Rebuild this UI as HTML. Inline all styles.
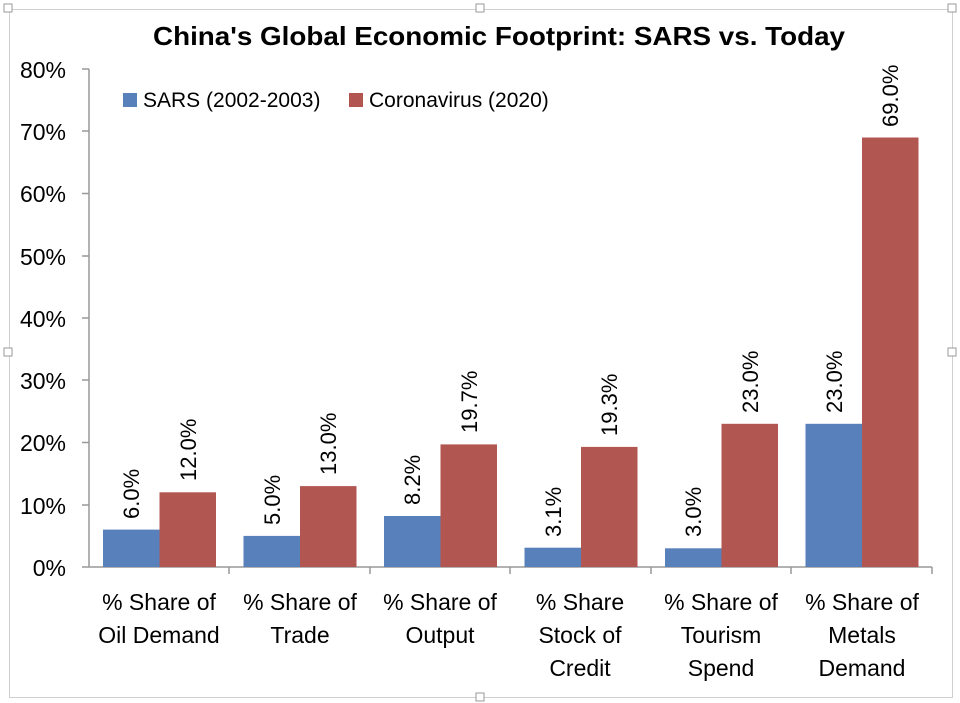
<!DOCTYPE html>
<html><head><meta charset="utf-8"><style>
html,body{margin:0;padding:0;background:#fff;}
svg{display:block;font-family:"Liberation Sans",sans-serif;}
</style></head><body>
<svg width="960" height="703" viewBox="0 0 960 703" xmlns="http://www.w3.org/2000/svg">
<rect x="0" y="0" width="960" height="703" fill="#fff"/>
<rect x="9.5" y="9.5" width="943" height="688" fill="none" stroke="#d0d0d0" stroke-width="1"/>
<rect x="4" y="4" width="8" height="8" fill="#fff" stroke="#999"/>
<rect x="476" y="4" width="8" height="8" fill="#fff" stroke="#999"/>
<rect x="948" y="4" width="8" height="8" fill="#fff" stroke="#999"/>
<rect x="4" y="348" width="8" height="8" fill="#fff" stroke="#999"/>
<rect x="948" y="348" width="8" height="8" fill="#fff" stroke="#999"/>
<rect x="476" y="693" width="8" height="8" fill="#fff" stroke="#999"/>
<text x="499" y="45" text-anchor="middle" font-size="26" font-weight="bold" textLength="692" lengthAdjust="spacingAndGlyphs">China's Global Economic Footprint: SARS vs. Today</text>
<g stroke="#999" stroke-width="1.5">
<line x1="89" y1="69" x2="89" y2="567"/>
<line x1="89" y1="567" x2="932" y2="567"/>
<line x1="82" y1="69" x2="89" y2="69"/><line x1="82" y1="131" x2="89" y2="131"/>
<line x1="82" y1="193.5" x2="89" y2="193.5"/><line x1="82" y1="256" x2="89" y2="256"/>
<line x1="82" y1="318" x2="89" y2="318"/><line x1="82" y1="380" x2="89" y2="380"/>
<line x1="82" y1="442.5" x2="89" y2="442.5"/><line x1="82" y1="505" x2="89" y2="505"/>
<line x1="82" y1="567" x2="89" y2="567"/>
<line x1="229" y1="567" x2="229" y2="574"/><line x1="370" y1="567" x2="370" y2="574"/>
<line x1="510" y1="567" x2="510" y2="574"/><line x1="651" y1="567" x2="651" y2="574"/>
<line x1="791" y1="567" x2="791" y2="574"/><line x1="932" y1="567" x2="932" y2="574"/>
</g>
<g font-size="23" text-anchor="end">
<text x="66" y="78">80%</text><text x="66" y="140">70%</text><text x="66" y="202">60%</text>
<text x="66" y="265">50%</text><text x="66" y="327">40%</text><text x="66" y="389">30%</text>
<text x="66" y="451">20%</text><text x="66" y="514">10%</text><text x="66" y="576">0%</text>
</g>
<rect x="123" y="93" width="14" height="14" fill="#5880bb"/>
<text x="143" y="107" font-size="21">SARS (2002-2003)</text>
<rect x="349" y="93" width="14" height="14" fill="#b25651"/>
<text x="369" y="107" font-size="21">Coronavirus (2020)</text>
<g>
<rect x="103" y="529.6" width="56.5" height="37.4" fill="#5880bb"/>
<rect x="159.5" y="492.3" width="56.5" height="74.7" fill="#b25651"/>
<rect x="243.5" y="535.9" width="56.5" height="31.1" fill="#5880bb"/>
<rect x="300" y="486.1" width="56.5" height="80.9" fill="#b25651"/>
<rect x="384" y="516" width="56.5" height="51" fill="#5880bb"/>
<rect x="440.5" y="444.4" width="56.5" height="122.6" fill="#b25651"/>
<rect x="524.5" y="547.7" width="56.5" height="19.3" fill="#5880bb"/>
<rect x="581" y="446.9" width="56.5" height="120.1" fill="#b25651"/>
<rect x="665" y="548.3" width="56.5" height="18.7" fill="#5880bb"/>
<rect x="721.5" y="423.8" width="56.5" height="143.2" fill="#b25651"/>
<rect x="805.5" y="423.8" width="56.5" height="143.2" fill="#5880bb"/>
<rect x="862" y="137.5" width="56.5" height="429.5" fill="#b25651"/>
</g>
<g font-size="22">
<text transform="translate(139,519) rotate(-90)">6.0%</text>
<text transform="translate(196,481) rotate(-90)">12.0%</text>
<text transform="translate(280,525) rotate(-90)">5.0%</text>
<text transform="translate(336,475) rotate(-90)">13.0%</text>
<text transform="translate(420,505) rotate(-90)">8.2%</text>
<text transform="translate(477,433) rotate(-90)">19.7%</text>
<text transform="translate(561,537) rotate(-90)">3.1%</text>
<text transform="translate(617,436) rotate(-90)">19.3%</text>
<text transform="translate(701,537) rotate(-90)">3.0%</text>
<text transform="translate(758,413) rotate(-90)">23.0%</text>
<text transform="translate(842,413) rotate(-90)">23.0%</text>
<text transform="translate(898,127) rotate(-90)">69.0%</text>
</g>
<g font-size="23" text-anchor="middle">
<text x="159" y="610">% Share of</text><text x="159" y="643">Oil Demand</text>
<text x="300" y="610">% Share of</text><text x="300" y="643">Trade</text>
<text x="440" y="610">% Share of</text><text x="440" y="643">Output</text>
<text x="580" y="610">% Share</text><text x="580" y="643">Stock of</text><text x="580" y="676">Credit</text>
<text x="721" y="610">% Share of</text><text x="721" y="643">Tourism</text><text x="721" y="676">Spend</text>
<text x="862" y="610">% Share of</text><text x="862" y="643">Metals</text><text x="862" y="676">Demand</text>
</g>
</svg>
</body></html>
